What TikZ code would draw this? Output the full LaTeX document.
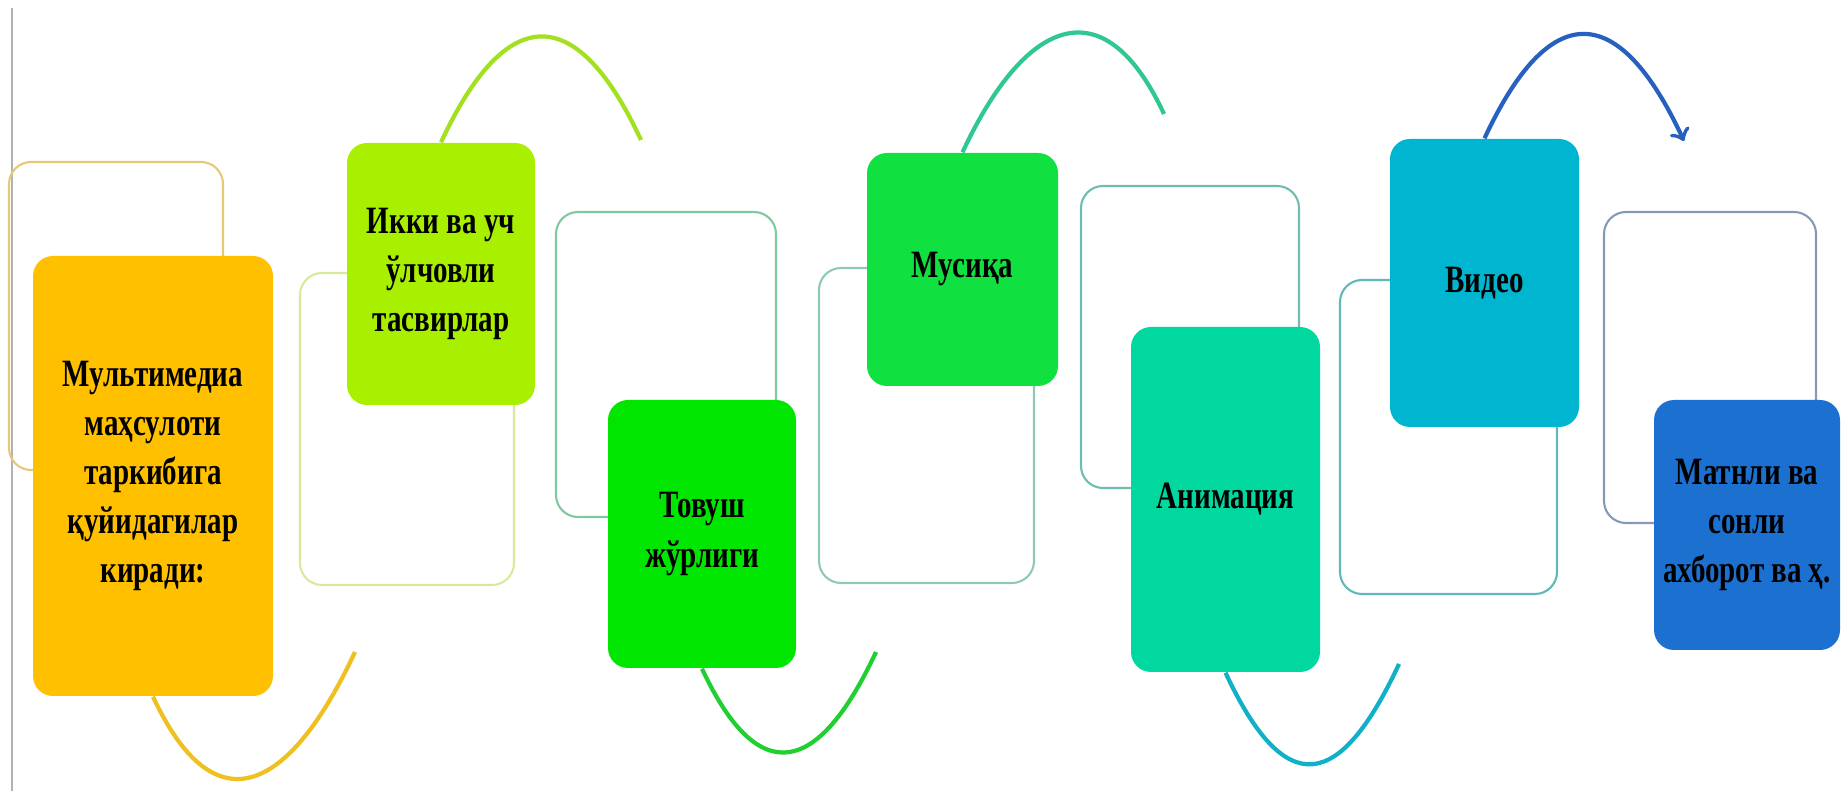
\documentclass[tikz,border=0pt]{standalone}
\usepackage{fontspec}
\setmainfont{Liberation Serif}[FakeStretch=0.75]
\usepackage{tikz}
\usepackage{xcolor}

\definecolor{orangefill}{HTML}{FFC000}
\definecolor{orangeline}{HTML}{E6C978}
\definecolor{orangearc}{HTML}{EEC020}
\definecolor{limefill}{HTML}{A8F000}
\definecolor{limeline}{HTML}{D6EA9C}
\definecolor{limearc}{HTML}{A2E020}
\definecolor{greenfill}{HTML}{00E600}
\definecolor{greenline}{HTML}{80C8A0}
\definecolor{greenarc}{HTML}{20D030}
\definecolor{musicfill}{HTML}{10E040}
\definecolor{musicline}{HTML}{90C8B8}
\definecolor{musicarc}{HTML}{30C890}
\definecolor{animfill}{HTML}{00D8A0}
\definecolor{animline}{HTML}{70BDB0}
\definecolor{animarc}{HTML}{10B0C8}
\definecolor{videofill}{HTML}{00B5D0}
\definecolor{videoline}{HTML}{60B8B8}
\definecolor{videoarc}{HTML}{2860C0}
\definecolor{textfill}{HTML}{1C70D0}
\definecolor{textline}{HTML}{8898B8}

\newcommand{\itemfont}{\fontsize{11}{14}\selectfont\bfseries}

\begin{document}
\begin{tikzpicture}[x=0.1mm, y=0.1mm,
    item/.style={rounded corners=2mm, align=center, font=\itemfont, inner sep=0pt},
    framebox/.style={rounded corners=2.2mm, line width=0.6pt},
    arcline/.style={line width=1.2pt}]
\useasboundingbox (0,0) rectangle (1843,-791);
\draw[black!30, line width=0.6pt] (12,-8)--(12,-791);
% frames behind the boxes
\draw[framebox, orangeline] (9,-162) rectangle (223,-470);
\draw[framebox, limeline] (300,-273) rectangle (514,-585);
\draw[framebox, greenline] (556,-212) rectangle (776,-517);
\draw[framebox, musicline] (819,-268) rectangle (1034,-583);
\draw[framebox, animline] (1081,-186) rectangle (1299,-488);
\draw[framebox, videoline] (1340,-280) rectangle (1557,-594);
\draw[framebox, textline] (1604,-212) rectangle (1816,-523);
% boxes
\node[item, fill=orangefill, minimum width=24mm, minimum height=44mm] (media) at (153,-476)
    {Мультимедиа\\маҳсулоти\\таркибига\\қуйидагилар\\киради:};
\node[item, fill=limefill, minimum width=18.8mm, minimum height=26.2mm] (images) at (441,-274)
    {Икки ва уч\\ўлчовли\\тасвирлар};
\node[item, fill=greenfill, minimum width=18.8mm, minimum height=26.8mm] (sound) at (702,-534)
    {Товуш\\жўрлиги};
\node[item, fill=musicfill, minimum width=19.1mm, minimum height=23.3mm] (music) at (962.5,-269.5)
    {Мусиқа};
\node[item, fill=animfill, minimum width=18.9mm, minimum height=34.5mm] (anim) at (1225.5,-499.5)
    {Анимация};
\node[item, fill=videofill, minimum width=18.9mm, minimum height=28.8mm] (video) at (1484.5,-283)
    {Видео};
\node[item, fill=textfill, minimum width=18.6mm, minimum height=25mm] (texts) at (1747,-525)
    {Матнли ва\\сонли\\ахборот ва ҳ.};
% arcs
\coordinate (e1) at (355,-652);
\coordinate (e2) at (641,-140);
\coordinate (e3) at (876,-652);
\coordinate (e4) at (1164,-114);
\coordinate (e5) at (1399,-664);
\coordinate (e6) at (1684,-141);
\draw[arcline, orangearc] (media.south) .. controls +(-65:150) and +(-115:150) .. (e1);
\draw[arcline, limearc] (images.north) .. controls +(65:154) and +(115:154) .. (e2);
\draw[arcline, greenarc] (sound.south) .. controls +(-65:135) and +(-115:135) .. (e3);
\draw[arcline, musicarc] (music.north) .. controls +(65:145) and +(115:145) .. (e4);
\draw[arcline, animarc] (anim.south) .. controls +(-65:141) and +(-115:141) .. (e5);
\draw[arcline, videoarc, ->] (video.north) .. controls +(65:155) and +(115:155) .. (e6);
\end{tikzpicture}
\end{document}
